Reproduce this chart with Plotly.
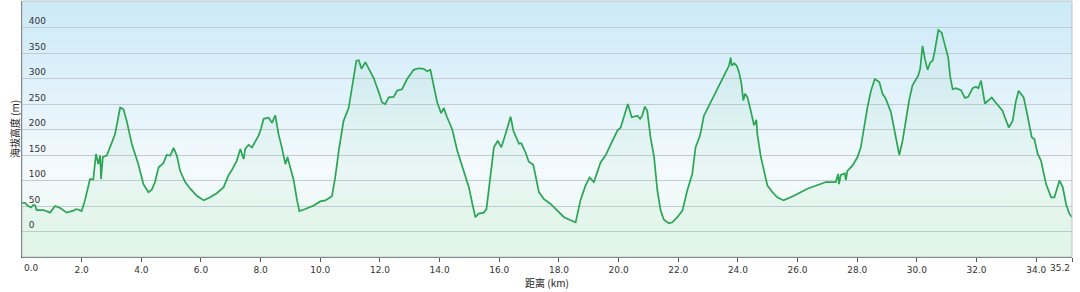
import base64
import plotly.graph_objects as go

distance_km = [
    0.00, 0.10, 0.21, 0.30, 0.38, 0.44, 0.49, 0.72, 0.94, 1.11, 1.28, 1.50, 1.72, 1.83, 2.00,
    2.11, 2.28, 2.39, 2.48, 2.56, 2.62, 2.65, 2.71, 2.84, 2.95, 3.12, 3.29, 3.40, 3.51, 3.68,
    3.90, 4.07, 4.24, 4.35, 4.46, 4.58, 4.74, 4.85, 4.97, 5.08, 5.19, 5.30, 5.47, 5.64, 5.86,
    6.09, 6.31, 6.53, 6.76, 6.92, 7.05, 7.20, 7.32, 7.43, 7.48, 7.60, 7.71, 7.82, 7.93, 8.01,
    8.10, 8.27, 8.38, 8.49, 8.60, 8.71, 8.83, 8.90, 8.99, 9.11, 9.22, 9.30, 9.50, 9.78, 10.00,
    10.17, 10.39, 10.50, 10.62, 10.78, 10.95, 11.06, 11.21, 11.29, 11.38, 11.51, 11.62, 11.79, 11.96, 12.07,
    12.18, 12.29, 12.46, 12.57, 12.74, 12.91, 13.13, 13.30, 13.47, 13.58, 13.69, 13.80, 13.92, 14.05, 14.14,
    14.25, 14.42, 14.59, 14.81, 14.98, 15.11, 15.20, 15.31, 15.48, 15.57, 15.70, 15.82, 15.95, 16.07, 16.21,
    16.30, 16.38, 16.47, 16.66, 16.74, 16.88, 16.99, 17.14, 17.33, 17.49, 17.72, 17.94, 18.17, 18.39, 18.56,
    18.72, 18.89, 19.03, 19.17, 19.40, 19.56, 19.73, 19.96, 20.07, 20.18, 20.31, 20.44, 20.55, 20.63, 20.72,
    20.79, 20.88, 20.96, 21.07, 21.19, 21.30, 21.41, 21.52, 21.69, 21.80, 21.97, 22.14, 22.30, 22.47, 22.58,
    22.73, 22.86, 23.03, 23.20, 23.37, 23.53, 23.70, 23.76, 23.79, 23.87, 23.96, 24.04, 24.12, 24.18, 24.24,
    24.32, 24.43, 24.54, 24.62, 24.65, 24.77, 24.88, 24.99, 25.16, 25.32, 25.53, 25.88, 26.33, 26.67, 26.95,
    27.11, 27.28, 27.36, 27.39, 27.45, 27.58, 27.62, 27.67, 27.84, 28.01, 28.12, 28.23, 28.34, 28.46, 28.59,
    28.74, 28.85, 28.96, 29.13, 29.24, 29.35, 29.41, 29.52, 29.63, 29.74, 29.85, 29.97, 30.04, 30.11, 30.19,
    30.27, 30.36, 30.45, 30.53, 30.60, 30.72, 30.83, 30.94, 31.05, 31.12, 31.20, 31.31, 31.48, 31.61, 31.72,
    31.87, 31.98, 32.06, 32.15, 32.28, 32.39, 32.51, 32.60, 32.73, 32.87, 32.95, 33.08, 33.21, 33.32, 33.41,
    33.49, 33.58, 33.71, 33.85, 33.94, 34.05, 34.16, 34.33, 34.50, 34.61, 34.78, 34.89, 35.00, 35.11, 35.20,
]

elevation_m = [
    56, 56, 50, 47, 52, 51, 42, 42, 37, 50, 46, 37, 41, 44, 40,
    61, 103, 102, 152, 132, 149, 103, 146, 149, 165, 191, 243, 240, 217, 172,
    132, 93, 77, 82, 97, 126, 134, 150, 149, 164, 149, 119, 97, 84, 70,
    61, 67, 75, 87, 110, 122, 139, 162, 142, 162, 170, 165, 178, 188, 201,
    221, 223, 213, 228, 191, 165, 132, 146, 126, 100, 61, 40, 44, 51, 59,
    61, 69, 106, 159, 217, 242, 283, 335, 336, 319, 332, 319, 301, 273, 253,
    250, 263, 264, 276, 279, 299, 317, 320, 319, 314, 317, 283, 253, 232, 242,
    224, 201, 159, 119, 87, 51, 28, 35, 37, 44, 106, 165, 178, 165, 191,
    211, 225, 198, 172, 173, 155, 137, 131, 77, 64, 54, 41, 28, 22, 18,
    61, 90, 106, 97, 136, 149, 170, 198, 204, 224, 250, 224, 225, 227, 221,
    227, 245, 237, 185, 146, 80, 41, 23, 16, 18, 28, 41, 80, 113, 165,
    188, 227, 247, 266, 286, 305, 325, 341, 325, 330, 325, 312, 289, 257, 270,
    263, 237, 208, 219, 191, 146, 119, 90, 77, 67, 61, 70, 84, 91, 97,
    97, 97, 113, 93, 111, 114, 101, 119, 129, 146, 165, 204, 243, 276, 299,
    293, 270, 260, 234, 201, 172, 150, 178, 221, 257, 286, 299, 305, 319, 364,
    338, 317, 332, 335, 354, 395, 390, 367, 341, 302, 279, 281, 277, 262, 264,
    281, 284, 281, 296, 251, 256, 263, 256, 247, 237, 224, 204, 217, 256, 276,
    270, 263, 227, 185, 181, 152, 139, 93, 67, 67, 100, 87, 54, 35, 28,
]

x_tick_vals = [0, 2, 4, 6, 8, 10, 12, 14, 16, 18, 20, 22, 24, 26, 28, 30, 32, 34, 35.2]
x_tick_text = ["0.0", "2.0", "4.0", "6.0", "8.0", "10.0", "12.0", "14.0", "16.0", "18.0",
               "20.0", "22.0", "24.0", "26.0", "28.0", "30.0", "32.0", "34.0", "35.2"]
y_tick_vals = [0, 50, 100, 150, 200, 250, 300, 350, 400]
y_tick_text = ["0", "50", "100", "150", "200", "250", "300", "350", "400"]

x_range = [0, 35.2]
y_range = [-50, 452]

# gradient background as an SVG image
svg = (
    '<svg xmlns="http://www.w3.org/2000/svg" width="100" height="100" viewBox="0 0 100 100" '
    'preserveAspectRatio="none"><defs><linearGradient id="g" x1="0" y1="0" x2="0" y2="1">'
    '<stop offset="0" stop-color="#cbe9f8"/>'
    '<stop offset="0.66" stop-color="#f4fafd"/>'
    '<stop offset="1" stop-color="#e9f9ee"/>'
    '</linearGradient></defs><rect x="0" y="0" width="100" height="100" fill="url(#g)"/></svg>'
)
bg_src = "data:image/svg+xml;base64," + base64.b64encode(svg.encode()).decode()

tick_font = dict(family="DejaVu Sans, Verdana, sans-serif", size=9, color="#333333")
title_font = dict(family="Noto Sans CJK SC, DejaVu Sans, sans-serif", size=10, color="#222222")

fig = go.Figure()

# baseline for the fill (bottom of the plotting area)
fig.add_trace(go.Scatter(
    x=[distance_km[0], distance_km[-1]], y=[y_range[0], y_range[0]],
    mode="lines", line=dict(width=0, color="rgba(0,0,0,0)"),
    hoverinfo="skip", showlegend=False,
))
fig.add_trace(go.Scatter(
    x=distance_km, y=elevation_m, mode="lines",
    line=dict(color="#2aa552", width=1.7),
    fill="tonexty", fillcolor="rgba(70,190,110,0.06)",
    showlegend=False,
))

# edge tick labels aligned inward
fig.add_annotation(x=x_tick_vals[0], y=0, xref="x", yref="paper", yshift=-11,
                   text=x_tick_text[0], showarrow=False, xanchor="left", yanchor="middle",
                   font=tick_font)
fig.add_annotation(x=x_tick_vals[-1], y=0, xref="x", yref="paper", yshift=-11,
                   text=x_tick_text[-1], showarrow=False, xanchor="right", yanchor="middle",
                   font=tick_font)
shown_text = [""] + x_tick_text[1:-1] + [""]

fig.update_layout(
    width=1080, height=292,
    margin=dict(l=22, r=8, t=1, b=35),
    paper_bgcolor="white",
    plot_bgcolor="rgba(0,0,0,0)",
    images=[dict(source=bg_src, xref="paper", yref="paper", x=0, y=1, sizex=1, sizey=1,
                 xanchor="left", yanchor="top", sizing="stretch", layer="below")],
    shapes=[dict(type="rect", xref="paper", yref="paper", x0=0, x1=1, y0=0, y1=1,
                 line=dict(color="#b8c2ca", width=1), layer="above")],
    xaxis=dict(
        range=x_range, tickvals=x_tick_vals, ticktext=shown_text,
        showgrid=False, zeroline=False,
        showline=True, linecolor="#555555", linewidth=1,
        ticks="outside", ticklen=4, tickcolor="#555555",
        tickfont=tick_font,
        title=dict(text="距离 (km)", font=title_font, standoff=2),
    ),
    yaxis=dict(
        range=y_range, tickvals=y_tick_vals, ticktext=y_tick_text,
        showgrid=True, gridcolor="#c3cbd2", gridwidth=1,
        zeroline=False, showline=True, linecolor="#555555", linewidth=1,
        ticks="", ticklabelposition="inside top", ticklabelstandoff=5,
        tickfont=tick_font,
        title=dict(text="海拔高度 (m)", font=title_font, standoff=7),
    ),
)

fig.write_html("out.html")
